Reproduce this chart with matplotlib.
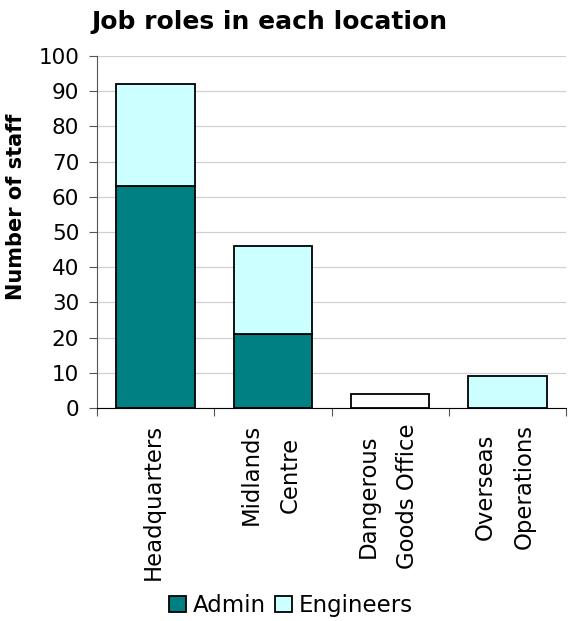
import matplotlib.pyplot as plt
import numpy as np

plt.rcParams["font.family"] = "DejaVu Sans"

locations = ["Headquarters", "Midlands\nCentre", "Dangerous\nGoods Office", "Overseas\nOperations"]
admin = [63, 21, 0, 0]
engineers = [29, 25, 4, 9]
engineer_colors = ["#CCFFFF", "#CCFFFF", "#FFFFFF", "#CCFFFF"]
yticks = [0, 10, 20, 30, 40, 50, 60, 70, 80, 90, 100]


def plot():
    fig = plt.figure(figsize=(5.68, 6.21), dpi=100)
    ax = fig.add_axes([0.1708, 0.343, 0.8257, 0.567])

    x = np.arange(len(locations))
    ax.bar(x, admin, width=0.67, color="#008080", edgecolor="black", linewidth=1.3, label="Admin", zorder=3)
    ax.bar(x, engineers, width=0.67, bottom=admin, color=engineer_colors, edgecolor="black",
           linewidth=1.3, label="Engineers", zorder=3)

    ax.set_xlim(-0.5, len(locations) - 0.5)
    ax.set_ylim(0, 100)
    ax.set_yticks(yticks)
    ax.set_yticklabels([str(v) for v in yticks], fontsize=15.5)
    ax.yaxis.grid(True, color="#d0d0d0", linewidth=0.9, zorder=0)

    # category ticks sit between the bars
    ax.set_xticks(np.arange(len(locations) + 1) - 0.5)
    ax.set_xticklabels([])
    ax.tick_params(axis="x", direction="out", length=6, color="#555555")
    ax.tick_params(axis="y", direction="out", length=5.8, color="#555555", pad=7)
    for i, name in enumerate(locations):
        ax.text(i - 0.02, -4.5, name, rotation=90, ha="center", va="top", fontsize=16.4,
                multialignment="center", linespacing=1.9)

    for s in ["top", "right"]:
        ax.spines[s].set_visible(False)
    ax.spines["left"].set_color("#555555")
    ax.spines["bottom"].set_color("black")

    ax.set_ylabel("Number of staff", fontsize=15, fontweight="bold")
    ax.yaxis.set_label_coords(-0.151, 0.571)
    fig.text(0.475, 0.965, "Job roles in each location", ha="center", va="center",
             fontsize=18, fontweight="bold")

    fig.legend(loc="center", bbox_to_anchor=(0.512, 0.025), ncol=2, frameon=False, fontsize=16.5,
               handlelength=0.75, handleheight=0.75, handletextpad=0.3, columnspacing=0.4)

    fig.savefig("out.png", dpi=100)


if __name__ == '__main__':
    plot()
